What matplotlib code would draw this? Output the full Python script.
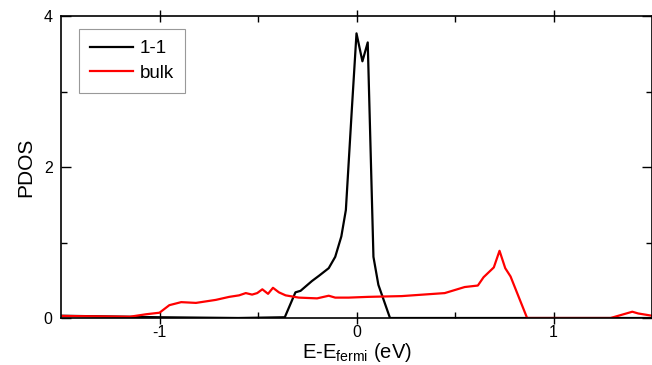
import matplotlib.pyplot as plt

plt.rcParams['font.family'] = ['Liberation Sans', 'DejaVu Sans']
plt.rcParams['mathtext.fontset'] = 'custom'
plt.rcParams['mathtext.rm'] = 'Liberation Sans'
plt.rcParams['mathtext.it'] = 'Liberation Sans'
plt.rcParams['axes.unicode_minus'] = False

# 1-1 curve (E - Ef in eV, PDOS)
e_11 = [-1.5, -1.0, -0.6, -0.364, -0.31, -0.284, -0.226, -0.19, -0.141, -0.108,
        -0.077, -0.054, -0.024, 0.0, 0.03, 0.057, 0.086, 0.111, 0.17, 1.5]
pdos_11 = [0.03, 0.01, 0.0, 0.01, 0.34, 0.36, 0.49, 0.56, 0.66, 0.81,
           1.08, 1.43, 2.75, 3.77, 3.40, 3.65, 0.81, 0.44, 0.0, 0.0]

# bulk curve
e_bulk = [-1.5, -1.15, -1.067, -1.0, -0.95, -0.89, -0.815, -0.714, -0.646, -0.596,
          -0.562, -0.53, -0.504, -0.478, -0.449, -0.424, -0.394, -0.36, -0.293, -0.2,
          -0.141, -0.108, -0.04, 0.06, 0.229, 0.448, 0.549, 0.616, 0.645, 0.697,
          0.726, 0.755, 0.782, 0.866, 1.29, 1.343, 1.4, 1.43, 1.5]
pdos_bulk = [0.027, 0.017, 0.05, 0.07, 0.17, 0.21, 0.2, 0.24, 0.28, 0.30,
             0.33, 0.31, 0.33, 0.38, 0.32, 0.40, 0.34, 0.30, 0.27, 0.26,
             0.295, 0.27, 0.27, 0.28, 0.29, 0.33, 0.41, 0.43, 0.54, 0.67,
             0.89, 0.66, 0.55, 0.0, 0.0, 0.04, 0.083, 0.06, 0.03]

fig = plt.figure(figsize=(6.52, 3.65), dpi=100)
ax = fig.add_axes([61 / 652, 47 / 365, 591 / 652, 302 / 365])

ax.plot(e_11, pdos_11, color='black', lw=1.6, label='1-1')
ax.plot(e_bulk, pdos_bulk, color='red', lw=1.6, label='bulk')

ax.set_xlim(-1.5, 1.5)
ax.set_ylim(0, 4)
ax.set_xticks([-1, 0, 1])
ax.set_xticks([-0.5, 0.5], minor=True)
ax.set_yticks([0, 2, 4])
ax.set_yticks([1, 3], minor=True)
ax.tick_params(which='both', top=True, right=True, labelsize=11.5, width=1)
ax.tick_params(axis='x', which='major', direction='inout', length=8, pad=1)
ax.tick_params(axis='x', which='minor', direction='in', length=4)
ax.tick_params(axis='y', which='major', direction='in', length=7, pad=6)
ax.tick_params(axis='y', which='minor', direction='in', length=4)
for s in ax.spines.values():
    s.set_linewidth(1.2)

ax.set_xlabel('E-E$_{\\mathregular{fermi}}$ (eV)', fontsize=14.5, labelpad=1)
ax.set_ylabel('PDOS', fontsize=15, labelpad=6)

leg = ax.legend(loc='upper left', bbox_to_anchor=(0.03, 0.957), borderaxespad=0,
                fontsize=13.5, fancybox=False, edgecolor='gray', handlelength=2.3,
                labelspacing=0.4, borderpad=0.6, handletextpad=0.35)
leg.get_frame().set_linewidth(0.8)

fig.savefig('out.png', dpi=100)
